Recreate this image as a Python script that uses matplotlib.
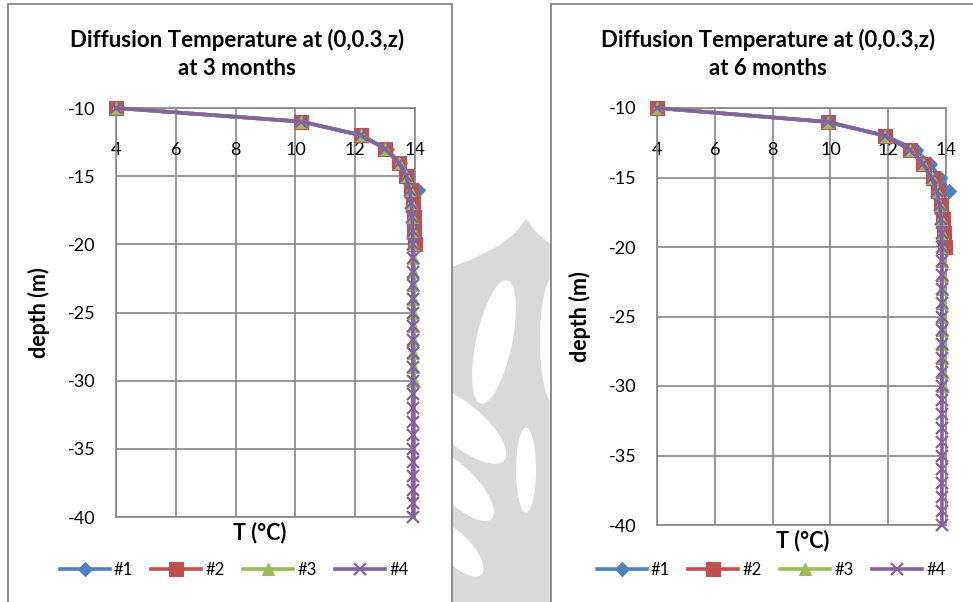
import matplotlib
matplotlib.use("Agg")
import matplotlib.pyplot as plt
from matplotlib.patches import Rectangle, Ellipse, Polygon
from matplotlib.transforms import Affine2D

plt.rcParams['font.family'] = ['Lato', 'DejaVu Sans']
plt.rcParams['axes.unicode_minus'] = False

# depths (m)
depth_1 = [-10, -11, -12, -13, -14, -15, -16]
depth_2 = [-10, -11, -12, -13, -14, -15, -16, -17, -18, -19, -20]
depth_3 = list(range(-10, -31, -1))
depth_4 = list(range(-10, -41, -1))

# temperatures at 3 months
t3_1 = [4.0, 10.2, 12.2, 13.05, 13.5, 13.78, 14.1]
t3_2 = [4.0, 10.2, 12.2, 13.0, 13.45, 13.7, 13.85, 13.92, 13.95, 13.97, 14.0]
t3_3 = [4.0, 10.2, 12.2, 13.0, 13.45, 13.7, 13.82, 13.88, 13.91, 13.92] + [13.93] * 10 + [13.95]
t3_4 = [4.0, 10.2, 12.2, 13.0, 13.45, 13.7, 13.82, 13.88, 13.91, 13.92] + [13.93] * 21

# temperatures at 6 months
t6_1 = [4.0, 9.9, 11.9, 12.95, 13.45, 13.8, 14.1]
t6_2 = [4.0, 9.9, 11.9, 12.75, 13.2, 13.55, 13.72, 13.82, 13.88, 13.92, 13.95]
t6_3 = [4.0, 9.9, 11.9, 12.75, 13.2, 13.5, 13.68, 13.78, 13.83, 13.85] + [13.86] * 10 + [13.88]
t6_4 = [4.0, 9.9, 11.9, 12.75, 13.2, 13.5, 13.68, 13.78, 13.83, 13.85] + [13.86] * 21

labels = ['#1', '#2', '#3', '#4']
colors = ['#4F81BD', '#C0504D', '#9BBB59', '#8064A2']
markers = ['D', 's', '^', 'x']
msizes = [7, 10, 9, 8.5]
titles = ['Diffusion Temperature at (0,0.3,z)\nat 3 months',
          'Diffusion Temperature at (0,0.3,z)\nat 6 months']

W, H = 973, 602
fig = plt.figure(figsize=(W / 100, H / 100), dpi=100)
px = Affine2D().scale(1, -1).translate(0, H)

# watermark in the gap between the two charts
gray = '#d9d9d9'
wm = [(440, 605), (440, 272), (470, 260), (498, 246), (515, 233), (526, 219),
      (536, 232), (550, 244), (565, 250), (565, 605)]
fig.add_artist(Polygon(wm, closed=True, transform=px, fc=gray, ec='none', zorder=0))
for (cx, cy, w, h, a) in [(494, 342, 36, 126, 12), (553, 340, 26, 125, 0),
                          (526, 470, 20, 85, 0), (462, 425, 110, 42, 40),
                          (458, 485, 95, 36, 45), (455, 548, 75, 30, 45)]:
    fig.add_artist(Ellipse((cx, cy), w, h, angle=a, transform=px, fc='white',
                           ec='none', zorder=0.5))

# chart area frames
for (x0, x1) in [(8, 452), (551, 1000)]:
    fig.add_artist(Rectangle((x0, 4), x1 - x0, 620, transform=px, fc='white',
                             ec='#868686', lw=1.3, zorder=1))

data = [
    [(depth_1, t3_1), (depth_2, t3_2), (depth_3, t3_3), (depth_4, t3_4)],
    [(depth_1, t6_1), (depth_2, t6_2), (depth_3, t6_3), (depth_4, t6_4)],
]
# plot areas in pixels: left, right, top, bottom
areas = [(116, 415, 108, 517), (657, 946, 108, 525)]
title_x = [237, 768]
leg_x = [234, 771]
ylab_x = [50, 591]
xlab_x = [260, 803]

for i in range(2):
    l, r, t, b = areas[i]
    ax = fig.add_axes([l / W, 1 - b / H, (r - l) / W, (b - t) / H])
    ax.set_zorder(2)
    for k in range(4):
        d, temp = data[i][k]
        ax.plot(temp, d, color=colors[k], marker=markers[k], ms=msizes[k],
                mew=1.6 if markers[k] == 'x' else 0.8, lw=2.6, label=labels[k],
                clip_on=False, zorder=3 + k)
    ax.set_xlim(4, 14)
    ax.set_ylim(-40, -10)
    ax.set_xticks([4, 6, 8, 10, 12, 14])
    ax.set_yticks([-10, -15, -20, -25, -30, -35, -40])
    ax.grid(True, color='#868686', lw=1.2)
    ax.set_axisbelow(True)
    for s in ax.spines.values():
        s.set_color('#868686')
        s.set_linewidth(1.2)
    ax.tick_params(axis='x', top=True, labeltop=True, bottom=False,
                   labelbottom=False, length=0, pad=-36, labelsize=13)
    ax.tick_params(axis='y', length=0, pad=15, labelsize=13)
    ax.set_xlabel('T (°C)', fontweight='bold', fontsize=15.5)
    ax.xaxis.set_label_position('bottom')
    ax.xaxis.set_label_coords((xlab_x[i] - l) / (r - l), -5 / (b - t))
    ax.set_ylabel('depth (m)', fontweight='bold', fontsize=15.5)
    ax.yaxis.set_label_coords((ylab_x[i] - l) / (r - l), 0.5)
    fig.text(title_x[i] / W, 1 - 54 / H, titles[i], ha='center', va='center',
             fontweight='bold', fontsize=16, linespacing=1.4)
    ax.legend(loc='center', bbox_to_anchor=(leg_x[i] / W, 1 - 570 / H),
              bbox_transform=fig.transFigure, ncol=4, frameon=False,
              fontsize=12, handlelength=3.0, handletextpad=0.25,
              columnspacing=1.1)

fig.savefig('out.png', dpi=100)
